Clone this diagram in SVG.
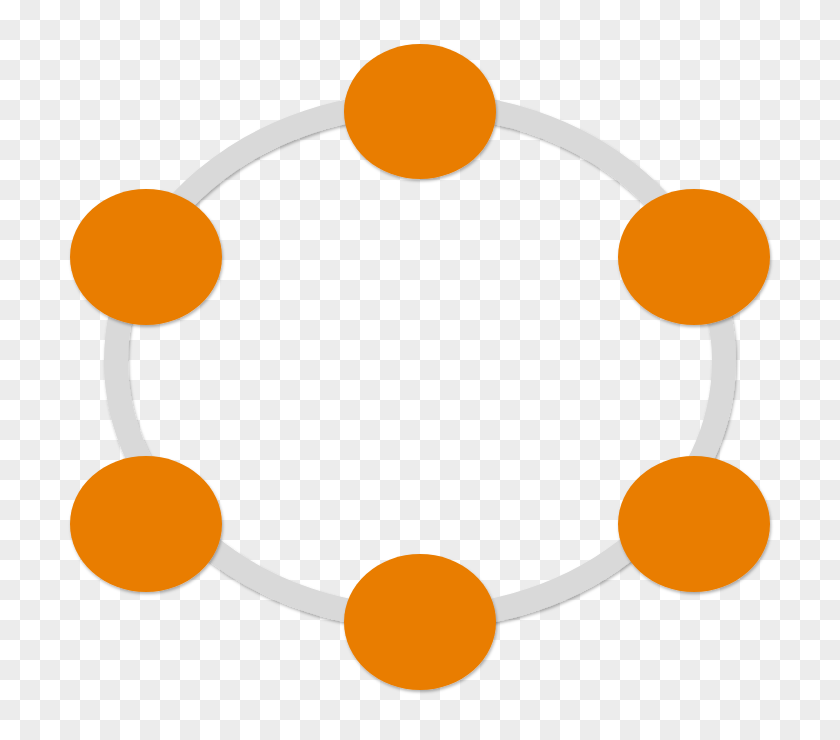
<svg xmlns="http://www.w3.org/2000/svg" width="840" height="740" viewBox="0 0 840 740">
  <defs>
    <pattern id="checker" x="0" y="0" width="40" height="40" patternUnits="userSpaceOnUse">
      <rect width="40" height="40" fill="#ffffff"/>
      <rect x="20" y="0" width="20" height="20" fill="#ececec"/>
      <rect x="0" y="20" width="20" height="20" fill="#ececec"/>
    </pattern>
    <filter id="shadow" x="-20%" y="-20%" width="140%" height="140%">
      <feDropShadow dx="1" dy="2" stdDeviation="1.5" flood-color="#000000" flood-opacity="0.3"/>
    </filter>
  </defs>
  <style>
    .node { fill: #e97d02; filter: url(#shadow); }
    .ring { fill: none; stroke: #d9d9d9; stroke-width: 24; filter: url(#shadow); }
  </style>
  <rect width="840" height="740" fill="url(#checker)"/>
  <g id="connectors">
    <ellipse class="ring" cx="420" cy="361" rx="304" ry="257"/>
  </g>
  <g id="node-top"><ellipse class="node" cx="420" cy="111.5" rx="76" ry="67.5"/></g>
  <g id="node-upper-left"><ellipse class="node" cx="146" cy="257" rx="76" ry="68"/></g>
  <g id="node-upper-right"><ellipse class="node" cx="694" cy="257" rx="76" ry="68"/></g>
  <g id="node-lower-left"><ellipse class="node" cx="146" cy="524" rx="76" ry="68"/></g>
  <g id="node-lower-right"><ellipse class="node" cx="694" cy="524" rx="76" ry="68"/></g>
  <g id="node-bottom"><ellipse class="node" cx="420" cy="622" rx="76" ry="68"/></g>
</svg>
